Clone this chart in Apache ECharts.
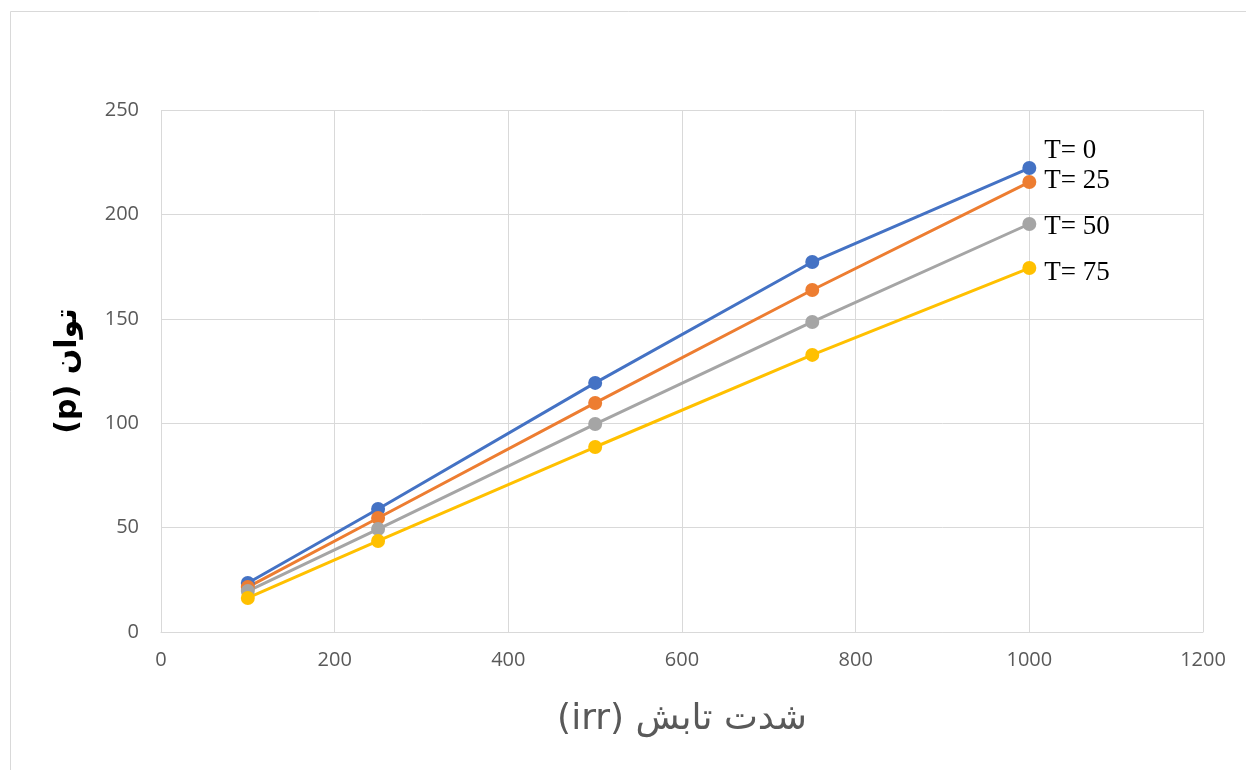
<!DOCTYPE html>
<html>
<head>
<meta charset="utf-8">
<script src="https://cdn.jsdelivr.net/npm/echarts@6/dist/echarts.min.js"></script>
<style>
  html, body { margin: 0; padding: 0; background: #fff; }
  #chart { width: 1246px; height: 770px; }
</style>
</head>
<body>
<div id="chart"></div>
<script>
// Irradiance levels (x) and output power at each temperature
const irradiance = [100, 250, 500, 750, 1000];
const powerT0  = [23.5, 58.9, 119.3, 177.2, 222.2];
const powerT25 = [21.5, 54.6, 109.7, 163.8, 215.5];
const powerT50 = [19.6, 49.3, 99.6, 148.5, 195.4];
const powerT75 = [16.3, 43.6, 88.6, 132.7, 174.3];
const seriesNames = ['T= 0', 'T= 25', 'T= 50', 'T= 75'];
const seriesColors = ['#4472C4', '#ED7D31', '#A5A5A5', '#FFC000'];
const labelOffsets = [[0, -17], [0, -1], [0, 3], [0, 5]];

const xTitle = '(irr) شدت تابش';
const yTitle = '(p) توان';

const chart = echarts.init(document.getElementById('chart'), null, { renderer: 'canvas' });

function makeSeries(name, values, color, offset) {
  const data = values.map((v, i) => {
    const item = { value: [irradiance[i], v] };
    if (i === values.length - 1) {
      item.label = {
        show: true,
        position: 'right',
        distance: 8,
        offset: offset,
        formatter: name,
        fontFamily: '"Liberation Serif", "Times New Roman", serif',
        fontSize: 27,
        color: '#000'
      };
    }
    return item;
  });
  return {
    name: name,
    type: 'line',
    data: data,
    symbol: 'circle',
    symbolSize: 14,
    lineStyle: { color: color, width: 3 },
    itemStyle: { color: color },
    label: { show: false },
    emphasis: { disabled: true },
    animation: false
  };
}

const tickFont = '"Open Sans", "Liberation Sans", sans-serif';

chart.setOption({
  backgroundColor: '#fff',
  animation: false,
  graphic: [{
    type: 'rect',
    shape: { x: 10.5, y: 11.5, width: 1250, height: 780 },
    style: { fill: 'none', stroke: '#d9d9d9', lineWidth: 1 },
    silent: true
  }],
  grid: { left: 161, right: 43, top: 110, bottom: 138 },
  xAxis: {
    type: 'value',
    min: 0, max: 1200, interval: 200,
    name: xTitle,
    nameLocation: 'middle',
    nameGap: 70,
    nameTextStyle: { fontFamily: '"DejaVu Sans", "Noto Sans", sans-serif', fontSize: 36, color: '#595959' },
    axisLine: { show: true, lineStyle: { color: '#d9d9d9', width: 1 } },
    axisTick: { show: false },
    axisLabel: { fontFamily: tickFont, fontSize: 20, color: '#595959', margin: 18, formatter: v => String(v) },
    splitLine: { show: true, lineStyle: { color: '#d9d9d9', width: 1 } }
  },
  yAxis: {
    type: 'value',
    min: 0, max: 250, interval: 50,
    name: yTitle,
    nameLocation: 'middle',
    nameGap: 78,
    nameRotate: 90,
    nameTextStyle: { fontFamily: '"DejaVu Sans", "Noto Sans", sans-serif', fontSize: 30, fontWeight: 'bold', color: '#000' },
    axisLine: { show: false },
    axisTick: { show: false },
    axisLabel: { fontFamily: tickFont, fontSize: 20, color: '#595959', margin: 22 },
    splitLine: { show: true, lineStyle: { color: '#d9d9d9', width: 1 } }
  },
  series: [
    makeSeries(seriesNames[0], powerT0, seriesColors[0], labelOffsets[0]),
    makeSeries(seriesNames[1], powerT25, seriesColors[1], labelOffsets[1]),
    makeSeries(seriesNames[2], powerT50, seriesColors[2], labelOffsets[2]),
    makeSeries(seriesNames[3], powerT75, seriesColors[3], labelOffsets[3])
  ]
});
</script>
</body>
</html>
